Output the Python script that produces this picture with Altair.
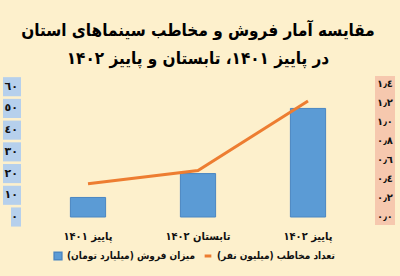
import altair as alt
import pandas as pd

# Periods and values
periods = ["پاییز ۱۴۰۱", "تابستان ۱۴۰۲", "پاییز ۱۴۰۲"]
sales = [9, 20, 50]            # billion toman
audience = [0.35, 0.49, 1.22]  # million people

# Axis ticks and their Arabic-Indic labels
left_ticks = [0, 10, 20, 30, 40, 50, 60]
left_labels = ["٠", "١٠", "٢٠", "٣٠", "٤٠", "٥٠", "٦٠"]
right_ticks = [0.0, 0.2, 0.4, 0.6, 0.8, 1.0, 1.2, 1.4]
right_labels = ["٠٫٠", "٠٫٢", "٠٫٤", "٠٫٦", "٠٫٨", "١٫٠", "١٫٢", "١٫٤"]

RLM = "\u200f"
sales_name = "میزان فروش (میلیارد تومان)" + RLM
audience_name = "تعداد مخاطب (میلیون نفر)" + RLM
title_lines = ["مقایسه آمار فروش و مخاطب سینماهای استان",
               "در پاییز ۱۴۰۱، تابستان و پاییز ۱۴۰۲"]

FONT = "DejaVu Sans"
CFONT = "DejaVu Sans Condensed"
BG = "#fdf0cc"
BLUE = "#5b9bd5"
ORANGE = "#ed7d31"

df = pd.DataFrame({"period": periods, "sales": sales, "audience": audience,
                   "s_name": sales_name, "a_name": audience_name})
left_df = pd.DataFrame({"v": left_ticks, "label": left_labels})
left_df["lo"] = left_df["v"] - 4.4
left_df["hi"] = left_df["v"] + 4.4
left_df["bx"] = -12 - (2 + 8 * left_df["label"].str.len())
right_df = pd.DataFrame({"v": right_ticks, "label": right_labels})

left_scale = alt.Scale(domain=[0, 70], nice=False, zero=True)
right_scale = alt.Scale(domain=[0, 1.6], nice=False, zero=True)

x_enc = alt.X("period:N", sort=periods, title=None,
              scale=alt.Scale(paddingInner=0.68, paddingOuter=0.34),
              axis=alt.Axis(labelFont=CFONT, labelFontSize=11, labelFontWeight="bold",
                            labelColor="#111", labelPadding=13, domain=False,
                            ticks=False, labelAngle=0))

legend_text = dict(labelFont=CFONT, labelFontSize=10, labelFontWeight="bold",
                   labelColor="#111", title=None, orient="none", legendY=186)

bars = alt.Chart(df).mark_bar(color=BLUE, stroke="#4a86c2", strokeWidth=1).encode(
    x=x_enc,
    y=alt.Y("sales:Q", scale=left_scale, title=None,
            axis=alt.Axis(values=left_ticks, labels=False, ticks=False, domain=False,
                          grid=True, gridColor="#ebdfbd", gridWidth=1.5)),
    color=alt.Color("s_name:N", scale=alt.Scale(range=[BLUE]),
                    legend=alt.Legend(legendX=20, symbolType="square", symbolSize=60,
                                      symbolStrokeColor="#4a86c2", **legend_text)),
)

left_boxes = alt.Chart(left_df).mark_rect(color="#b6d0ec").encode(
    x=alt.X("bx:Q", scale=None),
    x2=alt.value(-12),
    y=alt.Y("lo:Q", scale=left_scale, axis=None),
    y2="hi:Q",
)
left_text = alt.Chart(left_df).mark_text(
    font=FONT, fontSize=11, fontWeight="bold", color="#111", align="right",
    baseline="middle").encode(
    x=alt.value(-15),
    y=alt.Y("v:Q", scale=left_scale, axis=None),
    text="label:N",
)

line = alt.Chart(df).mark_line(strokeWidth=3).encode(
    x=x_enc,
    y=alt.Y("audience:Q", scale=right_scale, axis=None),
    stroke=alt.Stroke("a_name:N", scale=alt.Scale(range=[ORANGE]),
                      legend=alt.Legend(legendX=170, symbolType="stroke",
                                        symbolStrokeWidth=3, symbolSize=45,
                                        symbolStrokeColor=ORANGE, **legend_text)),
)

right_strip = alt.Chart(pd.DataFrame({"lo": [-0.085], "hi": [1.485]})).mark_rect(
    color="#f6c8ae").encode(
    x=alt.value(342), x2=alt.value(362),
    y=alt.Y("lo:Q", scale=right_scale, axis=None), y2="hi:Q",
)
right_text = alt.Chart(right_df).mark_text(
    font=FONT, fontSize=10, fontWeight="bold", color="#111", align="center",
    baseline="middle").encode(
    x=alt.value(352),
    y=alt.Y("v:Q", scale=right_scale, axis=None),
    text="label:N",
)

left_layer = alt.layer(left_boxes, left_text, bars)
right_layer = alt.layer(right_strip, right_text, line)

chart = alt.layer(left_layer, right_layer).resolve_scale(
    y="independent", color="independent"
).properties(
    width=330, height=152,
    background=BG,
    padding={"left": 33, "top": 65, "right": 37, "bottom": 59},
    autosize=alt.AutoSizeParams(type="none"),
    title=alt.TitleParams(text=title_lines, font=CFONT, fontSize=17, fontWeight="bold",
                          color="#000", anchor="middle", lineHeight=28, offset=2, dy=5),
).configure_view(stroke=None)

chart.save("out.html", embed_options={"renderer": "svg", "actions": False})
